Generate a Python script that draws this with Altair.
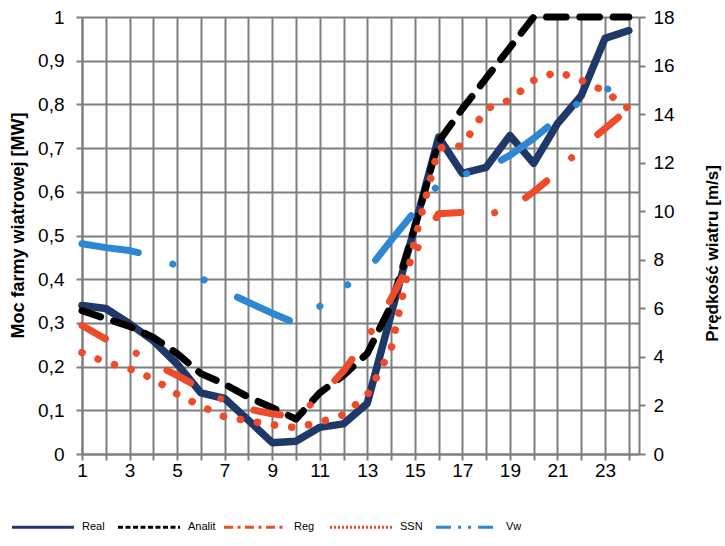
import altair as alt
import pandas as pd

hours = list(range(1, 25))
real = [0.34, 0.333, 0.298, 0.259, 0.206, 0.14, 0.127, 0.077, 0.026, 0.029, 0.061, 0.069,
        0.116, 0.32, 0.52, 0.725, 0.642, 0.656, 0.729, 0.665, 0.756, 0.82, 0.951, 0.969]
analit = [0.328, 0.31, 0.292, 0.267, 0.23, 0.184, 0.16, 0.13, 0.106, 0.08, 0.14, 0.18,
          0.23, 0.34, 0.52, 0.715, 0.79, 0.86, 0.93, 1.0, 1.0, 1.0, 1.0, 1.0]
reg = [0.294, 0.263, 0.24, 0.207, 0.18, 0.15, 0.122, 0.103, 0.092, 0.085, 0.13, 0.19,
       0.265, 0.355, 0.46, 0.55, 0.553, 0.548, 0.56, 0.60, 0.645, 0.70, 0.745, 0.79]
ssn = [0.232, 0.21, 0.195, 0.172, 0.137, 0.11, 0.085, 0.076, 0.067, 0.06, 0.073, 0.09,
       0.135, 0.24, 0.49, 0.70, 0.705, 0.79, 0.81, 0.855, 0.875, 0.855, 0.83, 0.79]
vw = [8.66, 8.5, 8.38, 8.15, 7.75, 7.25, 6.7, 6.25, 5.8, 5.38, 6.08, 6.85,
      7.55, 8.8, 10.0, 11.1, 11.5, 11.75, 12.3, 13.0, 13.8, 14.55, 15.0, 15.3]

series_names = ["Real", "Analit", "Reg", "SSN", "Vw"]
series_colors = ["#1F3868", "#000000", "#EE4B2B", "#EE4B2B", "#2D87D2"]
legend_dashes = [[1, 0], [5, 2.5], [9, 4.5, 3, 4.5], [2, 2], [15, 7, 3, 7, 3, 7]]

left_ticks = [0, 0.1, 0.2, 0.3, 0.4, 0.5, 0.6, 0.7, 0.8, 0.9, 1]
right_ticks = [0, 2, 4, 6, 8, 10, 12, 14, 16, 18]

df = pd.DataFrame({"hour": hours, "Real": real, "Analit": analit, "Reg": reg,
                   "SSN": ssn, "Vw": vw})
legend_df = pd.DataFrame({"series": series_names})

FONT = "Liberation Sans"
GRID = "#7f7f7f"

x_enc = alt.X(
    "hour:Q",
    scale=alt.Scale(domain=[1, 24.43], nice=False, zero=False),
    axis=alt.Axis(values=hours, labelExpr="datum.value % 2 == 1 ? datum.label : ''",
                  title=None, grid=True, gridColor=GRID, gridWidth=2,
                  domainColor=GRID, domainWidth=2, tickColor=GRID, tickWidth=2,
                  tickSize=6, labelFont=FONT, labelFontSize=19, labelColor="#000000",
                  labelPadding=1, labelFlush=False, labelOverlap=False),
)

left_axis = alt.Axis(values=left_ticks,
                     labelExpr="replace(format(datum.value, '.1~f'), '.', ',')",
                     title="Moc farmy wiatrowej [MW]", titleFont=FONT, titleFontSize=18,
                     titleFontWeight="bold", titleColor="#000000", titleAngle=270,
                     titleX=-64, titleY=208, titleAlign="center", titleBaseline="middle",
                     grid=True, gridColor=GRID, gridWidth=2, domainColor=GRID,
                     domainWidth=2, tickColor=GRID, tickWidth=2, tickSize=6,
                     labelFont=FONT, labelFontSize=19, labelColor="#000000",
                     labelPadding=12, labelFlush=False, labelOverlap=False)
left_scale = alt.Scale(domain=[0, 1], nice=False, zero=False)


def left_line(field, color, dash=None, width=7):
    kw = dict(color=color, strokeWidth=width, strokeCap="round", strokeJoin="round")
    if dash is not None:
        kw["strokeDash"] = dash
    return alt.Chart(df).mark_line(**kw).encode(
        x=x_enc, y=alt.Y(f"{field}:Q", scale=left_scale, axis=left_axis))


left = alt.layer(
    left_line("Real", series_colors[0], width=7.5),
    left_line("Analit", series_colors[1], [19.6, 13.7]),
    left_line("Reg", series_colors[2], [27, 34, 0.1, 35]),
    left_line("SSN", series_colors[3], [0.1, 17.2], width=7.5),
)

right = alt.Chart(df).mark_line(
    color=series_colors[4], strokeWidth=7, strokeCap="round", strokeJoin="round",
    strokeDash=[57, 36.5, 0.1, 35, 0.1, 37.5],
).encode(
    x=x_enc,
    y=alt.Y("Vw:Q", scale=alt.Scale(domain=[0, 18], nice=False, zero=False),
            axis=alt.Axis(orient="right", values=right_ticks, grid=False,
                          title="Prędkość wiatru [m/s]", titleFont=FONT, titleFontSize=17,
                          titleFontWeight="bold", titleColor="#000000", titleAngle=270,
                          titleX=73, titleY=236, titleAlign="center",
                          titleBaseline="middle", domainColor=GRID, domainWidth=2,
                          tickColor=GRID, tickWidth=2, tickSize=6, labelFont=FONT,
                          labelFontSize=19, labelColor="#000000", labelPadding=8,
                          labelFlush=False, labelOverlap=False)),
)

leg = alt.Legend(orient="none", legendX=-71.5, legendY=477.5, direction="horizontal",
                 title=None, symbolType="stroke", symbolSize=3844, symbolStrokeWidth=3,
                 labelFont=FONT, labelFontSize=11, labelColor="#000000", labelOffset=6.5,
                 labelAlign="left", columns=5, columnPadding=1, gridAlign="all")

legend_layer = alt.Chart(legend_df).mark_line(strokeWidth=3, strokeCap="butt", clip=True).encode(
    x=alt.value(-500), y=alt.value(-500),
    color=alt.Color("series:N", scale=alt.Scale(domain=series_names, range=series_colors),
                    legend=leg),
    strokeDash=alt.StrokeDash("series:N",
                              scale=alt.Scale(domain=series_names, range=legend_dashes),
                              legend=leg),
)

chart = alt.layer(left, right, legend_layer).resolve_scale(y="independent").properties(
    width=557, height=437,
    padding={"left": 82, "top": 17, "right": 86, "bottom": 92},
    autosize=alt.AutoSizeParams(type="none"),
    background="#ffffff",
).configure_view(strokeWidth=0)

chart.save("out.html", embed_options={"renderer": "svg", "actions": False})
